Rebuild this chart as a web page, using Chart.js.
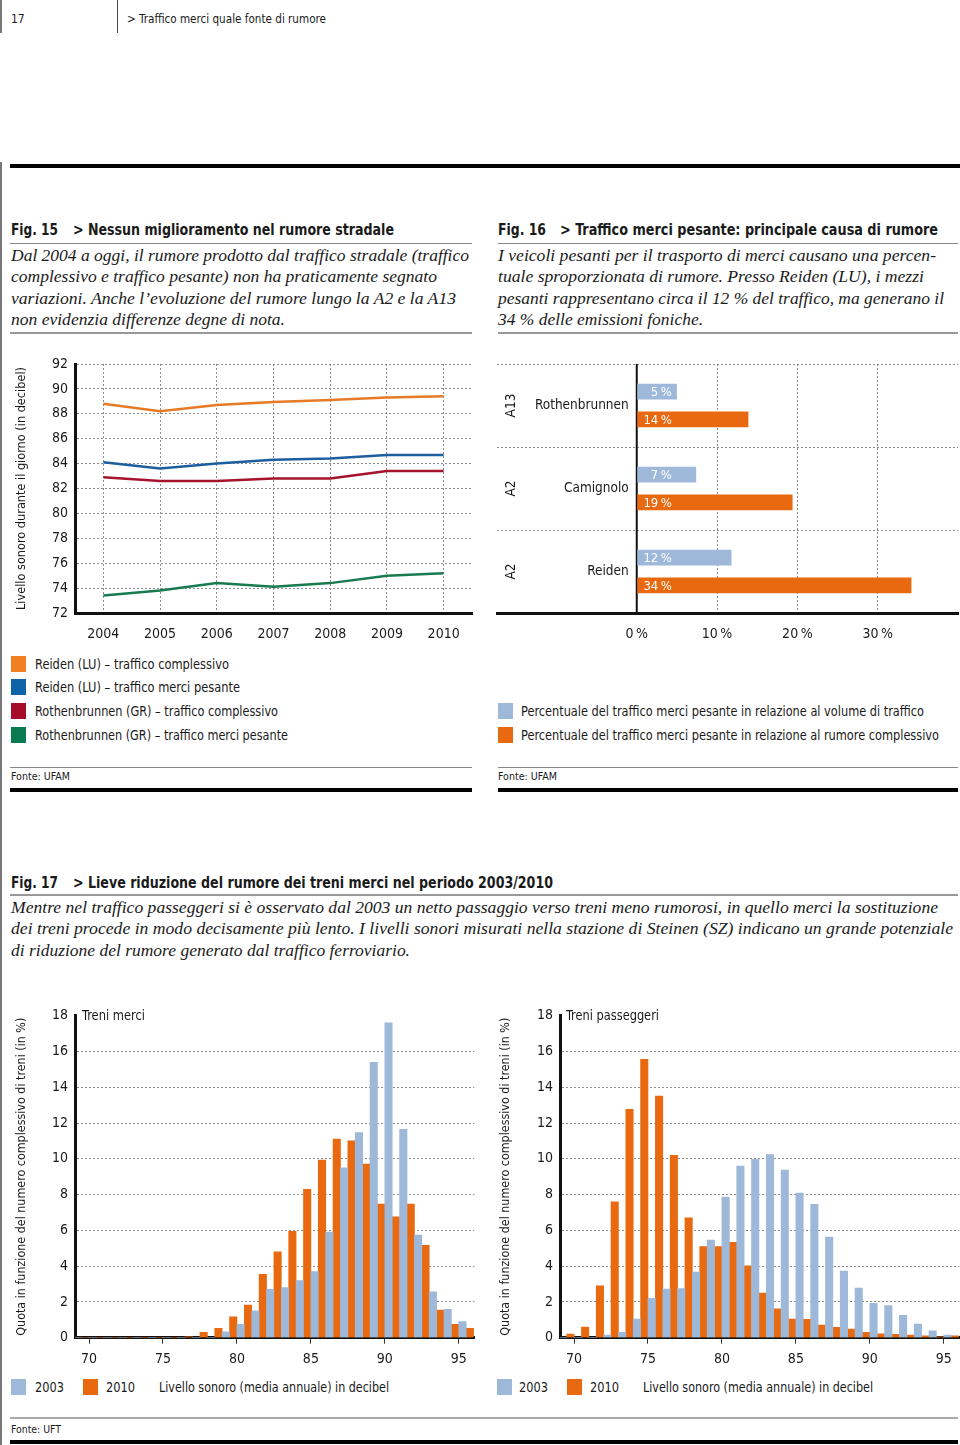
<!DOCTYPE html>
<html>
<head>
<meta charset="utf-8">
<script src="https://cdn.jsdelivr.net/npm/chart.js@4.4.0/dist/chart.umd.min.js"></script>
<style>
body{margin:0;width:960px;height:1445px;position:relative;background:#fff;overflow:hidden;
  font-family:'Liberation Sans Narrow','DejaVu Sans Condensed',sans-serif;color:#1a1a1a}
.t{position:absolute;white-space:nowrap;transform-origin:0 50%;line-height:20px;font-size:14px}
.b{font-weight:bold;font-size:16px}
.i{font-family:'Liberation Serif',serif;font-style:italic;font-size:17px}
.s{font-size:11px}
.ln{position:absolute}
.sq{position:absolute;width:15px;height:16px}
.cv{position:absolute}
</style>
</head>
<body>
<script>
// Fig. 15 - livello sonoro (dB)
const years = ['2004', '2005', '2006', '2007', '2008', '2009', '2010'];
const reidenTot = [88.8, 88.2, 88.7, 88.95, 89.1, 89.3, 89.4];
const reidenHeavy = [84.1, 83.6, 84.0, 84.3, 84.4, 84.7, 84.7];
const rothTot = [82.9, 82.6, 82.6, 82.8, 82.8, 83.4, 83.4];
const rothHeavy = [73.4, 73.8, 74.4, 74.1, 74.4, 75.0, 75.2];

// Fig. 16 - quote del traffico merci pesante (%)
const sites = ['Rothenbrunnen', 'Camignolo', 'Reiden'];
const roads = ['A13', 'A2', 'A2'];
const shareVolume = [5, 7.4, 11.8];
const shareNoise = [13.9, 19.4, 34.2];
const pctTicks = [0, 10, 20, 30];

// Fig. 17 - distribuzione per classe di decibel (%)
const dbBins = [69, 70, 71, 72, 73, 74, 75, 76, 77, 78, 79, 80, 81, 82, 83, 84, 85, 86, 87, 88, 89, 90, 91, 92, 93, 94, 95];
const freight2003 = [0, 0, 0, 0, 0, 0, 0, 0, 0, 0, 0.33, 0.75, 1.5, 2.7, 2.8, 3.2, 3.7, 5.9, 9.5, 11.46, 15.4, 17.6, 11.65, 5.74, 2.57, 1.58, 0.9];
const freight2010 = [0, 0, 0, 0, 0, 0, 0, 0.05, 0.3, 0.52, 1.17, 1.83, 3.54, 4.8, 5.94, 8.3, 9.93, 11.1, 11.0, 9.7, 7.47, 6.76, 7.47, 5.16, 1.55, 0.75, 0.52];
const pass2003 = [0, 0, 0, 0.15, 0.3, 1.04, 2.2, 2.72, 2.74, 3.67, 5.46, 7.86, 9.6, 9.97, 10.23, 9.37, 8.09, 7.45, 5.63, 3.73, 2.78, 1.92, 1.79, 1.25, 0.76, 0.39, 0.15];
const pass2010 = [0.2, 0.6, 2.9, 7.6, 12.76, 15.56, 13.5, 10.2, 6.7, 5.09, 5.09, 5.33, 4.02, 2.5, 1.62, 1.04, 1.02, 0.7, 0.58, 0.48, 0.3, 0.22, 0.19, 0.15, 0.1, 0.05, 0.1];
const dbTicks = [70, 75, 80, 85, 90, 95];
</script>

<!-- header -->
<div class="ln" style="left:0;top:0;width:2px;height:33px;background:#777"></div>
<div class="ln" style="left:0;top:162px;width:2px;height:1283px;background:#777"></div>
<div class="ln" style="left:117px;top:0;width:1px;height:33px;background:#444"></div>
<div class="t" style="left:11px;top:9px;font-size:12px">17</div>
<div class="t" style="left:127px;top:9px;font-size:13px" data-w="199">&gt; Traffico merci quale fonte di rumore</div>
<div class="ln" style="left:10px;top:164px;width:950px;height:4px;background:#000"></div>

<!-- Fig 15 heading -->
<div class="t b" style="left:11px;top:220px" data-w="47">Fig. 15</div>
<div class="t b" style="left:73px;top:220px" data-w="321">&gt; Nessun miglioramento nel rumore stradale</div>
<div class="ln" style="left:10px;top:243px;width:462px;height:1px;background:#888"></div>
<div class="t i" style="left:11px;top:246px" data-w="458">Dal 2004 a oggi, il rumore prodotto dal traffico stradale (traffico</div>
<div class="t i" style="left:11px;top:267px" data-w="426">complessivo e traffico pesante) non ha praticamente segnato</div>
<div class="t i" style="left:11px;top:289px" data-w="445">variazioni. Anche l’evoluzione del rumore lungo la A2 e la A13</div>
<div class="t i" style="left:11px;top:310px" data-w="274">non evidenzia differenze degne di nota.</div>
<div class="ln" style="left:10px;top:332px;width:462px;height:2px;background:#999"></div>

<!-- Fig 16 heading -->
<div class="t b" style="left:498px;top:220px" data-w="48">Fig. 16</div>
<div class="t b" style="left:560px;top:220px" data-w="378">&gt; Traffico merci pesante: principale causa di rumore</div>
<div class="ln" style="left:498px;top:243px;width:460px;height:1px;background:#888"></div>
<div class="t i" style="left:498px;top:246px" data-w="438">I veicoli pesanti per il trasporto di merci causano una percen-</div>
<div class="t i" style="left:498px;top:267px" data-w="426">tuale sproporzionata di rumore. Presso Reiden (LU), i mezzi</div>
<div class="t i" style="left:498px;top:289px" data-w="446">pesanti rappresentano circa il 12 % del traffico, ma generano il</div>
<div class="t i" style="left:498px;top:310px" data-w="205">34 % delle emissioni foniche.</div>
<div class="ln" style="left:498px;top:332px;width:460px;height:2px;background:#999"></div>

<canvas id="c15" class="cv" width="480" height="305" style="left:0;top:345px"></canvas>
<canvas id="c16" class="cv" width="470" height="300" style="left:490px;top:350px"></canvas>

<!-- legends fig 15 / 16 -->
<div class="sq" style="left:11px;top:656px;background:#f18023"></div>
<div class="t" style="left:35px;top:654px" data-w="194">Reiden (LU) – traffico complessivo</div>
<div class="sq" style="left:11px;top:679px;background:#0e63a8"></div>
<div class="t" style="left:35px;top:677px" data-w="205">Reiden (LU) – traffico merci pesante</div>
<div class="sq" style="left:11px;top:703px;background:#a50d29"></div>
<div class="t" style="left:35px;top:701px" data-w="243">Rothenbrunnen (GR) – traffico complessivo</div>
<div class="sq" style="left:11px;top:727px;background:#0a7a50"></div>
<div class="t" style="left:35px;top:725px" data-w="253">Rothenbrunnen (GR) – traffico merci pesante</div>

<div class="sq" style="left:498px;top:703px;background:#9db8d9"></div>
<div class="t" style="left:521px;top:701px" data-w="403">Percentuale del traffico merci pesante in relazione al volume di traffico</div>
<div class="sq" style="left:498px;top:727px;background:#e8690f"></div>
<div class="t" style="left:521px;top:725px" data-w="418">Percentuale del traffico merci pesante in relazione al rumore complessivo</div>

<div class="ln" style="left:10px;top:767px;width:462px;height:1px;background:#888"></div>
<div class="ln" style="left:498px;top:767px;width:460px;height:1px;background:#888"></div>
<div class="t s" style="left:11px;top:767px" data-w="59">Fonte: UFAM</div>
<div class="t s" style="left:498px;top:767px" data-w="59">Fonte: UFAM</div>
<div class="ln" style="left:10px;top:788px;width:462px;height:4px;background:#000"></div>
<div class="ln" style="left:498px;top:788px;width:460px;height:4px;background:#000"></div>

<!-- Fig 17 heading -->
<div class="t b" style="left:11px;top:873px" data-w="47">Fig. 17</div>
<div class="t b" style="left:73px;top:873px" data-w="480">&gt; Lieve riduzione del rumore dei treni merci nel periodo 2003/2010</div>
<div class="ln" style="left:10px;top:894px;width:948px;height:2px;background:#999"></div>
<div class="t i" style="left:11px;top:898px" data-w="927">Mentre nel traffico passeggeri si è osservato dal 2003 un netto passaggio verso treni meno rumorosi, in quello merci la sostituzione</div>
<div class="t i" style="left:11px;top:919px" data-w="942">dei treni procede in modo decisamente più lento. I livelli sonori misurati nella stazione di Steinen (SZ) indicano un grande potenziale</div>
<div class="t i" style="left:11px;top:941px" data-w="399">di riduzione del rumore generato dal traffico ferroviario.</div>

<canvas id="c17a" class="cv" width="480" height="375" style="left:0;top:1000px"></canvas>
<canvas id="c17b" class="cv" width="480" height="375" style="left:480px;top:1000px"></canvas>
<div class="t" style="left:82px;top:1005px" data-w="63">Treni merci</div>
<div class="t" style="left:566px;top:1005px" data-w="93">Treni passeggeri</div>

<!-- legends fig 17 -->
<div class="sq" style="left:11px;top:1379px;background:#9db8d9"></div>
<div class="t" style="left:35px;top:1377px" data-w="29">2003</div>
<div class="sq" style="left:83px;top:1379px;background:#e8690f"></div>
<div class="t" style="left:106px;top:1377px" data-w="29">2010</div>
<div class="t" style="left:159px;top:1377px" data-w="230">Livello sonoro (media annuale) in decibel</div>
<div class="sq" style="left:497px;top:1379px;background:#9db8d9"></div>
<div class="t" style="left:519px;top:1377px" data-w="29">2003</div>
<div class="sq" style="left:567px;top:1379px;background:#e8690f"></div>
<div class="t" style="left:590px;top:1377px" data-w="29">2010</div>
<div class="t" style="left:643px;top:1377px" data-w="230">Livello sonoro (media annuale) in decibel</div>

<div class="ln" style="left:10px;top:1417px;width:948px;height:2px;background:#aaa"></div>
<div class="t s" style="left:11px;top:1420px" data-w="50">Fonte: UFT</div>
<div class="ln" style="left:10px;top:1440px;width:948px;height:4px;background:#000"></div>

<script>
// fit text lines to the widths measured on the page
document.querySelectorAll('[data-w]').forEach(el => {
    const w = el.getBoundingClientRect().width;
    if (w > 0) el.style.transform = 'scaleX(' + (parseFloat(el.dataset.w) / w) + ')';
});

const FONT = "'Liberation Sans Narrow','DejaVu Sans Condensed',sans-serif";
Chart.defaults.font.family = FONT;
Chart.defaults.font.size = 14;
Chart.defaults.color = '#1a1a1a';
Chart.defaults.animation = false;
Chart.defaults.responsive = false;
Chart.defaults.devicePixelRatio = 1;
Chart.defaults.plugins.legend.display = false;
Chart.defaults.plugins.tooltip.enabled = false;

const BLUE = '#9db8d9';
const ORANGE = '#e8690f';
const GRID = '#8c8c8c';
const DOT = [2, 2];

// Fig. 15
new Chart(document.getElementById('c15'), {
    type: 'line',
    data: {
        labels: years,
        datasets: [
            { label: 'Reiden (LU) – traffico complessivo', data: reidenTot, borderColor: '#e67a26' },
            { label: 'Reiden (LU) – traffico merci pesante', data: reidenHeavy, borderColor: '#1c5e9e' },
            { label: 'Rothenbrunnen (GR) – traffico complessivo', data: rothTot, borderColor: '#a5132d' },
            { label: 'Rothenbrunnen (GR) – traffico merci pesante', data: rothHeavy, borderColor: '#177a50' }
        ]
    },
    options: {
        layout: { padding: { top: 19, right: 8, left: 0, bottom: 0 } },
        elements: { point: { radius: 0 }, line: { borderWidth: 2.5, tension: 0 } },
        scales: {
            x: {
                offset: true,
                grid: { offset: false, color: GRID, drawTicks: false },
                border: { color: '#111', width: 3, dash: DOT },
                ticks: { padding: 13 },
                afterFit: s => { s.height = 37; }
            },
            y: {
                min: 72, max: 92,
                ticks: { stepSize: 2, padding: 7 },
                grid: { color: GRID, drawTicks: false },
                border: { color: '#111', width: 3, dash: DOT },
                title: { display: true, text: 'Livello sonoro durante il giorno (in decibel)', font: { size: 12.6 }, padding: { top: 14, bottom: 0 } },
                afterFit: s => { s.width = 75; }
            }
        }
    }
});

// Fig. 16
const fig16Labels = {
    id: 'fig16Labels',
    beforeDatasetsDraw(chart) {
        const { ctx, chartArea } = chart;
        const x0 = chart.scales.x.getPixelForValue(0);
        ctx.save();
        ctx.strokeStyle = '#111';
        ctx.lineWidth = 2;
        ctx.beginPath();
        ctx.moveTo(x0, chartArea.top);
        ctx.lineTo(x0, chartArea.bottom);
        ctx.stroke();
        ctx.restore();
    },
    afterDatasetsDraw(chart) {
        const { ctx, chartArea } = chart;
        const ys = chart.scales.y;
        const x0 = chart.scales.x.getPixelForValue(0);
        ctx.save();
        ctx.fillStyle = '#1a1a1a';
        ctx.textBaseline = 'middle';
        ctx.font = '13.5px ' + FONT;
        sites.forEach((name, i) => {
            const y = ys.getPixelForValue(i);
            ctx.textAlign = 'right';
            ctx.fillText(name, x0 - 8, y);
            ctx.save();
            ctx.translate(chartArea.left + 14, y);
            ctx.rotate(-Math.PI / 2);
            ctx.textAlign = 'center';
            ctx.fillText(roads[i], 0, 0);
            ctx.restore();
        });
        ctx.fillStyle = '#fff';
        ctx.font = '13px ' + FONT;
        ctx.textAlign = 'right';
        chart.data.datasets.forEach((ds, di) => {
            chart.getDatasetMeta(di).data.forEach((bar, i) => {
                ctx.fillText(Math.round(ds.data[i]) + '\u202f%', x0 + 35, bar.y + 1);
            });
        });
        ctx.restore();
    }
};

new Chart(document.getElementById('c16'), {
    type: 'bar',
    data: {
        labels: sites,
        datasets: [
            { label: 'Percentuale del traffico merci pesante in relazione al volume di traffico', data: shareVolume, backgroundColor: BLUE },
            { label: 'Percentuale del traffico merci pesante in relazione al rumore complessivo', data: shareNoise, backgroundColor: ORANGE }
        ]
    },
    options: {
        indexAxis: 'y',
        categoryPercentage: 0.67,
        barPercentage: 0.57,
        layout: { padding: { top: 14, right: 2, left: 7, bottom: 0 } },
        scales: {
            x: {
                min: -17.4, max: 40,
                afterBuildTicks: s => { s.ticks = pctTicks.map(v => ({ value: v })); },
                ticks: { padding: 13, callback: v => v + '\u202f%' },
                grid: { color: c => (c.tick && c.tick.value === 0) ? 'rgba(0,0,0,0)' : GRID, drawTicks: false },
                border: { color: '#111', width: 3, dash: DOT },
                afterFit: s => { s.height = 37; }
            },
            y: {
                ticks: { display: false },
                grid: { color: GRID, drawTicks: false, offset: true },
                border: { display: false, dash: DOT },
                afterFit: s => { s.width = 0; }
            }
        }
    },
    plugins: [fig16Labels]
});

// Fig. 17
function histogram(id, title, a2003, a2010, axisWidth, titlePad, padRight) {
    new Chart(document.getElementById(id), {
        type: 'bar',
        data: {
            datasets: [
                { label: '2003', data: dbBins.map((d, i) => ({ x: d + 0.25, y: a2003[i] })), backgroundColor: BLUE },
                { label: '2010', data: dbBins.map((d, i) => ({ x: d + 0.75, y: a2010[i] })), backgroundColor: ORANGE }
            ]
        },
        options: {
            grouped: false,
            barPercentage: 1,
            categoryPercentage: 1,
            layout: { padding: { top: 15.7, right: padRight, left: 0, bottom: 0 } },
            scales: {
                x: {
                    type: 'linear', min: 69.05, max: 96.05, offset: false,
                    afterBuildTicks: s => { s.ticks = dbTicks.map(v => ({ value: v })); },
                    ticks: { padding: 7 },
                    grid: { drawOnChartArea: false, drawTicks: true, tickLength: 6, color: '#333', offset: false },
                    border: { color: '#111', width: 3 },
                    afterFit: s => { s.height = 37.3; }
                },
                y: {
                    min: 0, max: 18,
                    ticks: { stepSize: 2, padding: 7 },
                    grid: { color: c => (c.tick && c.tick.value === 18) ? 'rgba(0,0,0,0)' : GRID, drawTicks: false },
                    border: { color: '#111', width: 3, dash: DOT },
                    title: { display: true, text: title, font: { size: 12.4 }, padding: { top: titlePad, bottom: 0 } },
                    afterFit: s => { s.width = axisWidth; }
                }
            }
        }
    });
}

histogram('c17a', 'Quota in funzione del numero complessivo di treni (in %)', freight2003, freight2010, 75, 14, 5.7);
histogram('c17b', 'Quota in funzione del numero complessivo di treni (in %)', pass2003, pass2010, 80, 18, 0.7);
</script>
</body>
</html>
